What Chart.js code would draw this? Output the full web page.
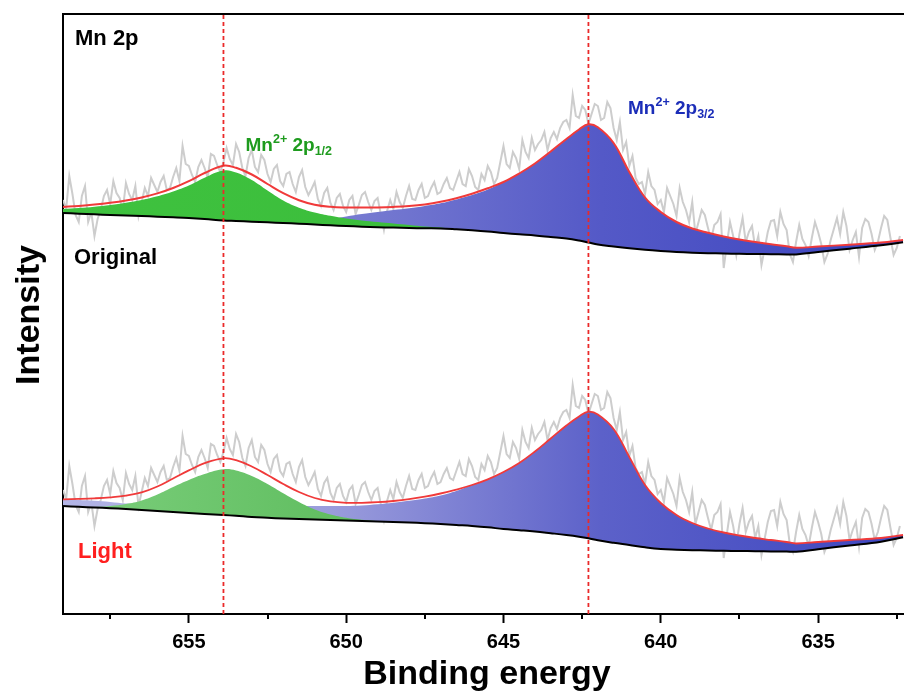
<!DOCTYPE html>
<html>
<head>
<meta charset="utf-8">
<script src="https://cdn.jsdelivr.net/npm/chart.js@4.4.1/dist/chart.umd.min.js"></script>
<style>
  html, body { margin: 0; padding: 0; background: #fff; }
  #wrap { width: 904px; height: 693px; }
</style>
</head>
<body>
<div id="wrap"><canvas id="xps" width="904" height="693"></canvas></div>
<script>
// binding energy grid (eV) for the fitted curves
const energy = [659, 658.5, 658, 657.5, 657, 656.5, 656, 655.5, 655, 654.5, 653.9, 653.5, 653, 652.5, 652, 651.5, 651, 650.5, 650, 649.5,
    649, 648.5, 648, 647.5, 647, 646.5, 646, 645.5, 645, 644.5, 644, 643.5, 643, 642.6, 642.3, 642, 641.5, 641, 640.5, 640,
    639.5, 639, 638.5, 638, 637.5, 637, 636.5, 636, 635.7, 635, 634, 633, 632.3];

// Original sample
const origBackground = [401, 400.3, 399.7, 399, 398.5, 398, 397.3, 396.7, 396, 395, 393.5, 393, 392.3, 391.7, 391, 390.3, 389.5, 388.7, 388, 387.3,
    386.8, 386.4, 386, 385.7, 385.5, 384.7, 383.7, 382.5, 381, 379.7, 378.5, 377, 375.5, 373.5, 371.5, 369.5, 367.5, 365.7, 364.2, 363,
    362, 361.3, 360.8, 360.5, 360.2, 360, 359.8, 359.6, 359.5, 362, 365.3, 368.7, 371.7];
const origEnvelope = [407, 408.1, 409.5, 411.3, 413.6, 416.6, 420.6, 426, 432.8, 441, 448.3, 446.2, 439.5, 430, 420.8, 413.8, 409.3, 407.2, 406.5, 406.4,
    406.6, 407.1, 408, 409.6, 412.2, 415.8, 420.3, 425.7, 432, 440.5, 450.5, 462.5, 475, 484.5, 489.7, 486.7, 471, 442, 416.5, 402,
    392, 385.5, 381.2, 377.5, 374.5, 372, 369.7, 367.7, 366.2, 367.5, 369.3, 371.5, 374];
const origP12 = [405, 406, 407.3, 409, 411.2, 414, 417.7, 422.5, 428.5, 436.3, 443.5, 441.5, 434, 423.5, 413.5, 406.3, 401.5, 398.2, 395.6, 393.6,
    392, 390.5, 389, 387.5, 386.5, 384.7, 383.7, 382.5, 381, 379.7, 378.5, 377, 375.5, 373.5, 371.5, 369.5, 367.5, 365.7, 364.2, 363,
    362, 361.3, 360.8, 360.5, 360.2, 360, 359.8, 359.6, 359.5, 362, 365.3, 368.7, 371.7];
const origP32 = [401, 400.3, 399.7, 399, 398.5, 398, 397.3, 396.7, 396, 395, 393.5, 393, 392.3, 391.7, 391, 390.3, 392, 394.5, 397.5, 400,
    402, 404, 405.8, 408, 410.7, 414.5, 419, 424.5, 432, 440.5, 450.5, 462.5, 475, 484.5, 489.7, 486.7, 471, 442, 416.5, 402,
    392, 385.5, 381.2, 377.5, 374.5, 372, 369.7, 367.7, 366.2, 367.5, 369.3, 371.5, 374];

// Light sample
const lightBackground = [108, 107.2, 106.5, 105.8, 105, 104, 103, 102, 101, 100, 99, 98.2, 97, 96.2, 95.5, 95, 94.5, 94, 93.5, 93,
    92.5, 92, 91.5, 90.8, 90, 89, 88, 86.7, 85, 83.8, 82.5, 80.8, 79, 77.3, 75.7, 73.7, 71.2, 69, 66.7, 65,
    64.3, 63.8, 63.5, 63.2, 63, 62.8, 62.6, 62.4, 62.3, 64.8, 68.5, 72.3, 76.7];
const lightEnvelope = [114.7, 115.1, 115.7, 116.7, 118.4, 121.6, 127.5, 135.5, 143.6, 150.8, 155.7, 153.8, 147.5, 139, 130, 122, 116, 112.6, 111.2, 111.2,
    111.8, 113, 114.8, 117.3, 120.5, 124.4, 129, 134.7, 142, 151, 162.5, 175.5, 188.5, 197.5, 202.3, 199.5, 185, 157, 129, 111,
    99, 91, 85.5, 81.5, 78.5, 76, 74, 72, 70.5, 72, 74, 76, 79];
const lightP12 = [108, 107.2, 107, 108, 110, 113.5, 119.5, 127, 134, 140, 144.7, 143.5, 138, 130, 120.7, 112, 104.5, 99.5, 96.2, 94.2,
    92.8, 92, 91.5, 90.8, 90, 89, 88, 86.7, 85, 83.8, 82.5, 80.8, 79, 77.3, 75.7, 73.7, 71.2, 69, 66.7, 65,
    64.3, 63.8, 63.5, 63.2, 63, 62.8, 62.6, 62.4, 62.3, 64.8, 68.5, 72.3, 76.7];
const lightP32 = [114.5, 114, 113.2, 112, 110.5, 109.5, 109, 108.5, 108, 108, 108, 108, 108, 108, 108, 108, 108, 108, 108, 108.5,
    109.7, 111.2, 113.2, 115.5, 118.5, 123, 129, 134.7, 142, 151, 162.5, 175.5, 188.5, 197.5, 202.3, 199.5, 185, 157, 129, 111,
    99, 91, 85.5, 81.5, 78.5, 76, 74, 72, 70.5, 72, 74, 76, 79];

// raw counts, 0.1 eV steps from 659.0 eV; the Light trace is the same scan stacked lower
const rawStart = 659;
const rawStep = 0.1;
const lightStack = 290;
const origRaw = [
    414, 405, 438, 420, 399, 392, 418, 428, 392, 402, 378, 395, 404, 418, 424, 410, 433, 421, 416, 404,
    431, 420, 414, 428, 398, 412, 426, 418, 436, 429, 422, 432, 438, 424, 426, 437, 446, 433, 468, 450,
    448, 439, 432, 447, 454, 446, 436, 460, 458, 449, 442, 452, 466, 455, 449, 470, 462, 446, 438, 456,
    464, 447, 442, 459, 454, 440, 432, 445, 449, 433, 428, 440, 442, 430, 422, 437, 444, 427, 419, 425,
    432, 415, 408, 421, 426, 411, 404, 416, 420, 408, 402, 414, 418, 400, 409, 419, 422, 412, 404, 413,
    416, 400, 384, 403, 414, 405, 422, 412, 406, 418, 428, 415, 414, 424, 430, 416, 418, 426, 432, 420,
    422, 430, 436, 426, 424, 433, 442, 430, 428, 445, 438, 427, 424, 440, 434, 448, 442, 430, 436, 452,
    468, 450, 446, 462, 456, 445, 474, 462, 456, 476, 464, 470, 474, 482, 464, 476, 482, 475, 486, 492,
    494, 486, 519, 498, 496, 508, 504, 490, 500, 510, 508, 494, 496, 512, 506, 486, 474, 492, 464, 472,
    448, 458, 436, 430, 432, 420, 442, 428, 424, 410, 414, 402, 426, 418, 410, 398, 426, 412, 404, 392,
    412, 380, 392, 404, 399, 386, 374, 389, 392, 400, 346, 370, 392, 378, 359, 380, 396, 372, 382, 388,
    366, 378, 349, 365, 382, 393, 394, 378, 402, 390, 384, 360, 352, 372, 389, 375, 369, 358, 376, 392,
    382, 370, 352, 360, 374, 385, 396, 380, 402, 388, 364, 374, 382, 357, 386, 395, 392, 380, 364, 372,
    386, 398, 394, 376, 359, 366, 378];

const peakEnergies = [653.9, 642.3];
const majorStep = 5;
const minorTickValues = [657.5, 652.5, 647.5, 642.5, 637.5, 632.5];

const FONT = "'Liberation Sans', Arial, sans-serif";
Chart.defaults.font.family = FONT;

const pts = (xs, ys) => ys.map((y, i) => ({ x: xs[i], y: y }));
const rawEnergy = origRaw.map((_, i) => +(rawStart - i * rawStep).toFixed(2));
const lightRaw = origRaw.map(v => v - lightStack);

function gradientFill(stops) {
    return function (context) {
        const { ctx, chartArea } = context.chart;
        if (!chartArea) return stops[0][1];
        const g = ctx.createLinearGradient(chartArea.left, 0, chartArea.right, 0);
        stops.forEach(s => g.addColorStop(s[0], s[1]));
        return g;
    };
}

function curve(data, color, width) {
    return {
        data: data,
        borderColor: color,
        borderWidth: width,
        fill: false,
        tension: 0.4,
        pointRadius: 0
    };
}

function area(data, target, bg) {
    return {
        data: data,
        borderWidth: 0,
        borderColor: 'rgba(0,0,0,0)',
        backgroundColor: bg,
        fill: target,
        tension: 0.4,
        pointRadius: 0
    };
}

const datasets = [
    // 0,1 dashed peak markers
    ...peakEnergies.map(p => ({
        data: [{ x: p, y: 0 }, { x: p, y: 600 }],
        borderColor: '#ea2a2a',
        borderWidth: 1.8,
        borderDash: [4, 3],
        pointRadius: 0,
        fill: false
    })),
    // 2,3 envelopes
    curve(pts(energy, origEnvelope), '#f03a3a', 2),
    curve(pts(energy, lightEnvelope), '#f03a3a', 1.8),
    // 4,5 backgrounds
    curve(pts(energy, origBackground), '#000000', 2),
    curve(pts(energy, lightBackground), '#000000', 2),
    // 6,7 Mn2+ 2p1/2
    area(pts(energy, origP12), 4, gradientFill([[0, '#3fc23f'], [1, '#37b837']])),
    area(pts(energy, lightP12), 5, gradientFill([[0, '#7ccf7c'], [0.35, '#5fbd5f'], [1, '#55b455']])),
    // 8,9 Mn2+ 2p3/2
    area(pts(energy, origP32), 4, gradientFill([[0, '#8a8ed8'], [0.32, '#7a7ed2'], [0.64, '#5459c7'], [1, '#3d45bf']])),
    area(pts(energy, lightP32), 5, gradientFill([[0, '#b3b5e6'], [0.32, '#9a9cdc'], [0.64, '#5c61c9'], [1, '#3e46c0']])),
    // 10,11 raw data
    { data: pts(rawEnergy, origRaw), borderColor: '#cdcdcd', borderWidth: 2, pointRadius: 0, fill: false, tension: 0 },
    { data: pts(rawEnergy, lightRaw), borderColor: '#cdcdcd', borderWidth: 2, pointRadius: 0, fill: false, tension: 0 }
];

function drawParts(ctx, x, y, parts, color) {
    ctx.fillStyle = color;
    ctx.textAlign = 'left';
    ctx.textBaseline = 'alphabetic';
    parts.forEach(p => {
        ctx.font = 'bold ' + p.size + 'px ' + FONT;
        ctx.fillText(p.text, x, y + p.shift);
        x += ctx.measureText(p.text).width;
    });
}

const decorations = {
    id: 'decorations',
    afterDraw(chart) {
        const { ctx, chartArea, scales } = chart;
        ctx.save();
        ctx.strokeStyle = '#000';
        ctx.lineWidth = 2;
        ctx.beginPath();
        ctx.moveTo(chartArea.left - 1, chartArea.top);
        ctx.lineTo(chartArea.right, chartArea.top);
        minorTickValues.forEach(v => {
            const px = Math.round(scales.x.getPixelForValue(v));
            ctx.moveTo(px, chartArea.bottom);
            ctx.lineTo(px, chartArea.bottom + 5);
        });
        ctx.stroke();

        ctx.textAlign = 'left';
        ctx.fillStyle = '#000';
        ctx.font = 'bold 22px ' + FONT;
        ctx.fillText('Mn 2p', 75, 45);
        ctx.fillText('Original', 74, 264);
        ctx.fillStyle = '#ff1f1f';
        ctx.fillText('Light', 78, 558);

        drawParts(ctx, 245.5, 150.5, [
            { text: 'Mn', size: 19, shift: 0 },
            { text: '2+', size: 12.5, shift: -8 },
            { text: ' 2p', size: 19, shift: 0 },
            { text: '1/2', size: 12.5, shift: 4 }
        ], '#1e9b1e');
        drawParts(ctx, 628, 114, [
            { text: 'Mn', size: 19, shift: 0 },
            { text: '2+', size: 12.5, shift: -8 },
            { text: ' 2p', size: 19, shift: 0 },
            { text: '3/2', size: 12.5, shift: 4 }
        ], '#1b2db8');

        ctx.fillStyle = '#000';
        ctx.font = 'bold 34px ' + FONT;
        ctx.textAlign = 'center';
        ctx.fillText('Binding energy', 487, 684);
        ctx.translate(39, 315);
        ctx.rotate(-Math.PI / 2);
        ctx.fillText('Intensity', 0, 0);
        ctx.restore();
    }
};

new Chart(document.getElementById('xps'), {
    type: 'line',
    data: { datasets: datasets },
    options: {
        responsive: false,
        devicePixelRatio: 1,
        animation: false,
        layout: { padding: { top: 14, right: 0, left: 0, bottom: 0 } },
        plugins: {
            legend: { display: false },
            tooltip: { enabled: false }
        },
        scales: {
            x: {
                type: 'linear',
                reverse: true,
                min: 632.27,
                max: 659,
                afterFit: s => { s.height = 79; },
                grid: { display: true, drawOnChartArea: false, drawTicks: true, tickLength: 9, tickWidth: 2, tickColor: '#000' },
                border: { display: true, width: 2, color: '#000' },
                ticks: {
                    stepSize: majorStep,
                    includeBounds: false,
                    maxRotation: 0,
                    padding: 7,
                    color: '#000',
                    font: { size: 20, weight: 'bold' }
                }
            },
            y: {
                min: 0,
                max: 600,
                afterFit: s => { s.width = 63; },
                grid: { display: false },
                border: { display: true, width: 2, color: '#000' },
                ticks: { display: false }
            }
        }
    },
    plugins: [decorations]
});
</script>
</body>
</html>
